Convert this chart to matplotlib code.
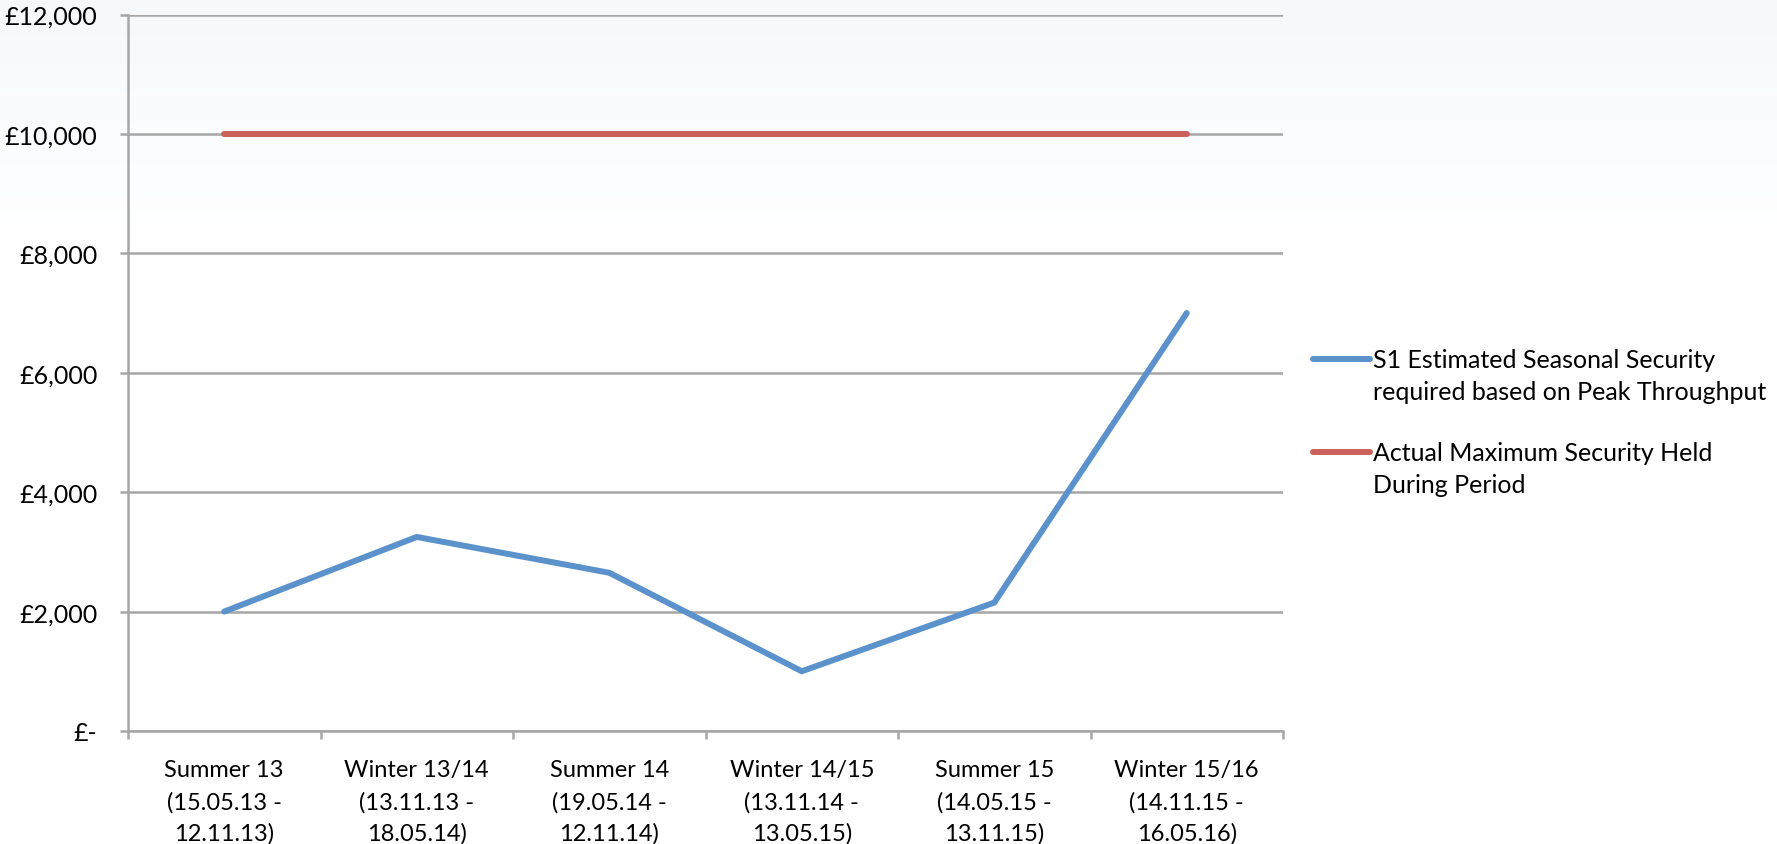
import numpy as np
import matplotlib
matplotlib.use("Agg")
import matplotlib.pyplot as plt
from matplotlib.lines import Line2D
from matplotlib.ticker import FuncFormatter

# data
periods = [
    "Summer 13\n(15.05.13 -\n12.11.13)",
    "Winter 13/14\n(13.11.13 -\n18.05.14)",
    "Summer 14\n(19.05.14 -\n12.11.14)",
    "Winter 14/15\n(13.11.14 -\n13.05.15)",
    "Summer 15\n(14.05.15 -\n13.11.15)",
    "Winter 15/16\n(14.11.15 -\n16.05.16)",
]
estimated_security = [2000, 3250, 2650, 1000, 2150, 7000]
actual_max_security = [10000, 10000, 10000, 10000, 10000, 10000]
series_labels = [
    "S1 Estimated Seasonal Security\nrequired based on Peak Throughput",
    "Actual Maximum Security Held\nDuring Period",
]
footnote = "*Security held by Francis Ford"

plt.rcParams["font.family"] = ["Lato", "DejaVu Sans"]

W, H = 1777, 845
fig = plt.figure(figsize=(W / 100, H / 100), dpi=100)

# faint bluish wash at the top of the slide background
bg = fig.add_axes([0, 0, 1, 1], zorder=-10)
grad = np.linspace(0, 1, 256)[:, None]
alpha = np.clip(1 - grad / 0.3, 0, 1) * 0.45
rgba = np.zeros((256, 1, 4))
rgba[..., 0] = 0.92
rgba[..., 1] = 0.95
rgba[..., 2] = 0.98
rgba[..., 3] = alpha
bg.imshow(rgba, aspect="auto", extent=[0, 1, 0, 1], origin="upper")
bg.axis("off")

left, right, top, bottom = 128 / W, 1283 / W, 1 - 15.5 / H, 1 - 732 / H
ax = fig.add_axes([left, bottom, right - left, top - bottom])
ax.patch.set_alpha(0)

x = np.arange(len(periods))
blue = "#5B92CC"
red = "#CB615A"
ax.plot(x, estimated_security, color=blue, lw=4.3, solid_capstyle="round",
        solid_joinstyle="miter", zorder=3)
ax.plot(x, actual_max_security, color=red, lw=4.3, solid_capstyle="round", zorder=3)

grid_c = "#A6A6A6"
ax.set_xlim(-0.5, len(periods) - 0.5)
ax.set_ylim(0, 12000)
ax.set_yticks(range(0, 12001, 2000))
ax.yaxis.set_major_formatter(FuncFormatter(lambda v, p: "£-" if v == 0 else f"£{int(v):,}"))
ax.grid(axis="y", color=grid_c, lw=1.8, zorder=1)
ax.set_axisbelow(True)

ax.set_xticks(x)
ax.set_xticklabels(periods, fontsize=17, linespacing=1.58)
ax.set_xticks(np.arange(-0.5, len(periods)), minor=True)
ax.tick_params(axis="x", which="major", length=0, pad=20.5)
ax.tick_params(axis="x", which="minor", length=6, width=1.8, color=grid_c)
ax.tick_params(axis="y", length=6, width=1.8, color=grid_c, pad=16, labelsize=18)

for s in ["top", "right"]:
    ax.spines[s].set_visible(False)
for s in ["left", "bottom"]:
    ax.spines[s].set_color(grid_c)
    ax.spines[s].set_linewidth(1.8)

# legend drawn by hand: handle sits level with the first text line, as in Excel
legend_rows = [(360, blue, series_labels[0]), (453, red, series_labels[1])]
for y_px, col, lab in legend_rows:
    fig.add_artist(Line2D([1313 / W, 1370 / W], [1 - y_px / H] * 2, color=col,
                          lw=4.3, solid_capstyle="round", transform=fig.transFigure))
    fig.text(1373 / W, 1 - (y_px - 11) / H, lab, fontsize=18, va="top",
             linespacing=1.45)

fig.text(1310 / W, 1 - 848 / H, footnote, fontsize=18, color="#444444", va="top")

fig.savefig("out.png", dpi=100)
